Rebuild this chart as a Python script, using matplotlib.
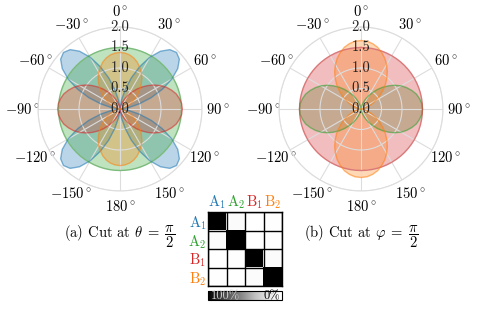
import numpy as np
import matplotlib
matplotlib.use("Agg")
import matplotlib.pyplot as plt

plt.rcParams['font.family'] = 'serif'
plt.rcParams['font.serif'] = ['cmr10']
plt.rcParams['mathtext.fontset'] = 'cm'
plt.rcParams['axes.unicode_minus'] = False

# sample angles (deg, clockwise from top) for the read-off radii
angles_deg = np.arange(0, 360, 5)

# (a) cut at theta = pi/2
cut_a_A1 = [0.00, 0.06, 0.23, 0.49, 0.81, 1.14, 1.46, 1.72, 1.89, 1.95, 1.89, 1.72, 1.46, 1.14, 0.81, 0.49, 0.23, 0.06,
            0.00, 0.06, 0.23, 0.49, 0.81, 1.14, 1.46, 1.72, 1.89, 1.95, 1.89, 1.72, 1.46, 1.14, 0.81, 0.49, 0.23, 0.06,
            0.00, 0.06, 0.23, 0.49, 0.81, 1.14, 1.46, 1.72, 1.89, 1.95, 1.89, 1.72, 1.46, 1.14, 0.81, 0.49, 0.23, 0.06,
            0.00, 0.06, 0.23, 0.49, 0.81, 1.14, 1.46, 1.72, 1.89, 1.95, 1.89, 1.72, 1.46, 1.14, 0.81, 0.49, 0.23, 0.06]
cut_a_A2 = [1.50, 1.50, 1.50, 1.50, 1.50, 1.50, 1.50, 1.50, 1.50, 1.50, 1.50, 1.50, 1.50, 1.50, 1.50, 1.50, 1.50, 1.50,
            1.50, 1.50, 1.50, 1.50, 1.50, 1.50, 1.50, 1.50, 1.50, 1.50, 1.50, 1.50, 1.50, 1.50, 1.50, 1.50, 1.50, 1.50,
            1.50, 1.50, 1.50, 1.50, 1.50, 1.50, 1.50, 1.50, 1.50, 1.50, 1.50, 1.50, 1.50, 1.50, 1.50, 1.50, 1.50, 1.50,
            1.50, 1.50, 1.50, 1.50, 1.50, 1.50, 1.50, 1.50, 1.50, 1.50, 1.50, 1.50, 1.50, 1.50, 1.50, 1.50, 1.50, 1.50]
cut_a_B1 = [0.00, 0.01, 0.05, 0.10, 0.18, 0.27, 0.38, 0.50, 0.63, 0.76, 0.89, 1.02, 1.14, 1.25, 1.34, 1.42, 1.47, 1.51,
            1.52, 1.51, 1.47, 1.42, 1.34, 1.25, 1.14, 1.02, 0.89, 0.76, 0.63, 0.50, 0.38, 0.27, 0.18, 0.10, 0.05, 0.01,
            0.00, 0.01, 0.05, 0.10, 0.18, 0.27, 0.38, 0.50, 0.63, 0.76, 0.89, 1.02, 1.14, 1.25, 1.34, 1.42, 1.47, 1.51,
            1.52, 1.51, 1.47, 1.42, 1.34, 1.25, 1.14, 1.02, 0.89, 0.76, 0.63, 0.50, 0.38, 0.27, 0.18, 0.10, 0.05, 0.01]
cut_a_B2 = [1.38, 1.37, 1.34, 1.29, 1.22, 1.13, 1.04, 0.93, 0.81, 0.69, 0.57, 0.45, 0.35, 0.25, 0.16, 0.09, 0.04, 0.01,
            0.00, 0.01, 0.04, 0.09, 0.16, 0.25, 0.35, 0.45, 0.57, 0.69, 0.81, 0.93, 1.04, 1.13, 1.22, 1.29, 1.34, 1.37,
            1.38, 1.37, 1.34, 1.29, 1.22, 1.13, 1.04, 0.93, 0.81, 0.69, 0.57, 0.45, 0.35, 0.25, 0.16, 0.09, 0.04, 0.01,
            0.00, 0.01, 0.04, 0.09, 0.16, 0.25, 0.35, 0.45, 0.57, 0.69, 0.81, 0.93, 1.04, 1.13, 1.22, 1.29, 1.34, 1.37]

# (b) cut at phi = pi/2  (A1 vanishes in this plane)
cut_b_A1 = [0.00] * 72
cut_b_A2 = [0.00, 0.01, 0.05, 0.10, 0.18, 0.27, 0.38, 0.49, 0.62, 0.75, 0.88, 1.01, 1.13, 1.23, 1.32, 1.40, 1.45, 1.49,
            1.50, 1.49, 1.45, 1.40, 1.32, 1.23, 1.13, 1.01, 0.88, 0.75, 0.62, 0.49, 0.38, 0.27, 0.18, 0.10, 0.05, 0.01,
            0.00, 0.01, 0.05, 0.10, 0.18, 0.27, 0.38, 0.49, 0.62, 0.75, 0.88, 1.01, 1.13, 1.23, 1.32, 1.40, 1.45, 1.49,
            1.50, 1.49, 1.45, 1.40, 1.32, 1.23, 1.13, 1.01, 0.88, 0.75, 0.62, 0.49, 0.38, 0.27, 0.18, 0.10, 0.05, 0.01]
cut_b_B1 = [1.50, 1.50, 1.50, 1.50, 1.50, 1.50, 1.50, 1.50, 1.50, 1.50, 1.50, 1.50, 1.50, 1.50, 1.50, 1.50, 1.50, 1.50,
            1.50, 1.50, 1.50, 1.50, 1.50, 1.50, 1.50, 1.50, 1.50, 1.50, 1.50, 1.50, 1.50, 1.50, 1.50, 1.50, 1.50, 1.50,
            1.50, 1.50, 1.50, 1.50, 1.50, 1.50, 1.50, 1.50, 1.50, 1.50, 1.50, 1.50, 1.50, 1.50, 1.50, 1.50, 1.50, 1.50,
            1.50, 1.50, 1.50, 1.50, 1.50, 1.50, 1.50, 1.50, 1.50, 1.50, 1.50, 1.50, 1.50, 1.50, 1.50, 1.50, 1.50, 1.50]
cut_b_B2 = [1.67, 1.66, 1.62, 1.56, 1.47, 1.37, 1.25, 1.12, 0.98, 0.84, 0.69, 0.55, 0.42, 0.30, 0.20, 0.11, 0.05, 0.01,
            0.00, 0.01, 0.05, 0.11, 0.20, 0.30, 0.42, 0.55, 0.69, 0.84, 0.98, 1.12, 1.25, 1.37, 1.47, 1.56, 1.62, 1.66,
            1.67, 1.66, 1.62, 1.56, 1.47, 1.37, 1.25, 1.12, 0.98, 0.84, 0.69, 0.55, 0.42, 0.30, 0.20, 0.11, 0.05, 0.01,
            0.00, 0.01, 0.05, 0.11, 0.20, 0.30, 0.42, 0.55, 0.69, 0.84, 0.98, 1.12, 1.25, 1.37, 1.47, 1.56, 1.62, 1.66]

# correlation matrix between the four ports
port_labels = [r'A$_1$', r'A$_2$', r'B$_1$', r'B$_2$']
corr = [[1.00, 0.03, 0.00, 0.01],
        [0.03, 1.00, 0.00, 0.01],
        [0.00, 0.01, 1.00, 0.03],
        [0.01, 0.00, 0.03, 1.00]]

port_colors = ['#1f77b4', '#2ca02c', '#d62728', '#ff7f0e']
r_ticks = [0.0, 0.5, 1.0, 1.5, 2.0]
theta_ticks = [0, 30, 60, 90, 120, 150, 180, 210, 240, 270, 300, 330]
theta_labels = [r'$0^\circ$', r'$30^\circ$', r'$60^\circ$', r'$90^\circ$', r'$120^\circ$', r'$150^\circ$',
                r'$180^\circ$', r'$-150^\circ$', r'$-120^\circ$', r'$-90^\circ$', r'$-60^\circ$', r'$-30^\circ$']
fs = 10.5


def polar_panel(ax, curves):
    ax.set_theta_zero_location('N')
    ax.set_theta_direction(-1)
    th = np.deg2rad(np.append(angles_deg, angles_deg[0]))
    for r, c in zip(curves, port_colors):
        if max(r) == 0:
            continue
        rr = np.append(r, r[0])
        ax.fill(th, rr, color=c, alpha=0.3, lw=0)
        ax.plot(th, rr, color=c, alpha=0.55, lw=1)
    ax.set_ylim(0, 2)
    ax.set_yticks(r_ticks)
    ax.set_yticklabels([])
    ax.set_xticks(np.deg2rad(theta_ticks))
    ax.set_xticklabels(theta_labels, fontsize=fs)
    ax.tick_params(axis='x', pad=4.5, length=0)
    ax.grid(color='#dddddd', lw=0.8)
    ax.spines['polar'].set_color('#dddddd')
    ax.spines['polar'].set_linewidth(0.8)
    for r in r_ticks:
        ax.text(0, r, '%.1f' % r, ha='center', va='center', fontsize=fs, color='#222222', zorder=5)


fig = plt.figure(figsize=(4.84, 3.09), dpi=100)

ax1 = fig.add_axes([38 / 484, 118 / 309, 164 / 484, 164 / 309], projection='polar')
polar_panel(ax1, [cut_a_A1, cut_a_A2, cut_a_B1, cut_a_B2])
ax2 = fig.add_axes([279 / 484, 118 / 309, 164 / 484, 164 / 309], projection='polar')
polar_panel(ax2, [cut_b_A1, cut_b_A2, cut_b_B1, cut_b_B2])

fig.text(120 / 484, 1 - 237 / 309, r'(a) Cut at $\theta\;=\;\dfrac{\pi}{2}$', ha='center', va='center', fontsize=fs)
fig.text(361 / 484, 1 - 237 / 309, r'(b) Cut at $\varphi\;=\;\dfrac{\pi}{2}$', ha='center', va='center', fontsize=fs)

# matrix
axm = fig.add_axes([208 / 484, 23 / 309, 74 / 484, 74 / 309])
im = axm.imshow(corr, cmap='Greys', vmin=0, vmax=1, aspect='auto')
axm.set_xticks(range(4))
axm.set_yticks(range(4))
axm.set_xticklabels(port_labels, fontsize=fs)
axm.set_yticklabels(port_labels, fontsize=fs)
axm.xaxis.tick_top()
axm.tick_params(length=0, pad=1)
for lab, c in zip(axm.get_xticklabels(), port_colors):
    lab.set_color(c)
for lab, c in zip(axm.get_yticklabels(), port_colors):
    lab.set_color(c)
axm.set_xticks(np.arange(-0.5, 4, 1), minor=True)
axm.set_yticks(np.arange(-0.5, 4, 1), minor=True)
axm.tick_params(which='minor', length=0)
axm.grid(which='minor', color='black', lw=1)
for s in axm.spines.values():
    s.set_linewidth(1)

# colour bar
axc = fig.add_axes([208 / 484, 9 / 309, 74 / 484, 9 / 309])
cb = fig.colorbar(im, cax=axc, orientation='horizontal')
cb.set_ticks([])
axc.invert_xaxis()
cb.outline.set_linewidth(0.8)
axc.text(0.04, 0.45, '100%', transform=axc.transAxes, ha='left', va='center', fontsize=9, color='#d0d0d0')
axc.text(0.97, 0.45, '0%', transform=axc.transAxes, ha='right', va='center', fontsize=9, color='black')

fig.savefig('out.png', dpi=100)
